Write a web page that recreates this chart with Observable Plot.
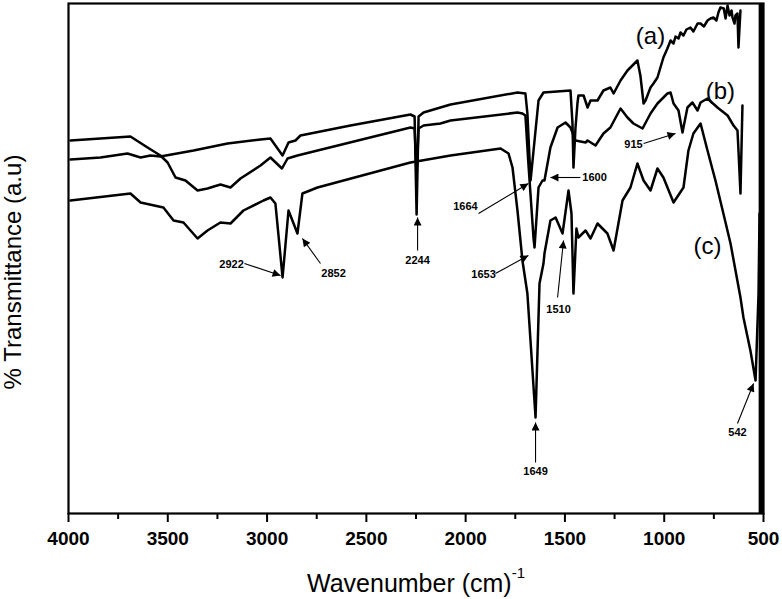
<!DOCTYPE html>
<html>
<head>
<meta charset="utf-8">
<script src="https://cdn.jsdelivr.net/npm/d3@7"></script>
<script src="https://cdn.jsdelivr.net/npm/@observablehq/plot@0.6"></script>
<style>
  html, body { margin: 0; padding: 0; background: #fff; }
  #chart svg { display: block; }
</style>
</head>
<body>
<div id="chart"></div>
<script>
// ---- Data (wavenumber cm^-1, transmittance a.u.) ----
const curveA = [
  [3990,70.8],[3839,71.2],[3703,72.0],[3637,71.2],[3587,71.6],[3537,71.4],[3370,72.6],
  [3199,74.0],[3033,74.8],[2983,75.0],[2958,73.6],[2922,71.6],[2892,74.2],[2857,74.6],
  [2832,75.6],[2580,77.6],[2278,79.8],[2257,79.4],[2247,59.8],[2237,79.4],[2212,80.2],
  [2127,81.2],[2076,81.8],[1739,84.2],[1699,84.0],[1689,80.0],[1673,66.6],[1658,72.6],
  [1633,82.6],[1608,84.2],[1472,84.6],[1462,78.0],[1457,69.2],[1447,77.0],[1437,82.0],
  [1432,83.6],[1406,83.6],[1386,81.2],[1371,82.6],[1336,82.6],[1306,84.6],[1271,85.2],
  [1255,84.0],[1220,86.6],[1185,88.6],[1135,90.6],[1120,87.6],[1104,82.0],[1094,82.6],
  [1069,85.2],[1054,86.0],[1034,87.2],[1004,91.2],[984,93.0],[968,94.6],[953,94.0],
  [943,95.4],[928,95.0],[918,96.2],[903,95.6],[888,96.8],[868,97.2],[853,96.4],[832,98.0],
  [817,98.0],[800,97.4],[782,98.6],[767,99.0],[752,99.2],[737,98.6],[727,100.2],[717,101.2],
  [700,101.0],[691,99.0],[681,101.6],[671,99.6],[661,100.6],[656,99.2],[646,98.0],[641,99.6],
  [631,100.0],[626,93.2],[621,97.0],[616,100.6]
];
const curveB = [
  [3990,74.6],[3688,75.4],[3602,73.2],[3537,71.6],[3501,70.2],[3461,67.2],[3411,66.6],
  [3350,64.6],[3300,65.0],[3235,65.8],[3184,65.2],[3134,67.0],[3033,69.6],[2983,71.2],
  [2925,69.0],[2897,71.0],[2847,71.6],[2278,77.2],[2257,77.0],[2247,67.6],[2237,77.0],
  [2212,77.6],[2127,78.0],[2076,78.6],[1739,80.2],[1714,80.0],[1699,79.6],[1684,70.0],
  [1658,55.0],[1653,53.2],[1633,65.2],[1613,66.6],[1603,66.6],[1573,73.2],[1537,77.2],
  [1497,78.2],[1472,77.2],[1447,74.6],[1396,74.2],[1386,74.6],[1346,73.6],[1306,76.0],
  [1271,77.2],[1220,81.0],[1185,79.2],[1155,78.0],[1109,77.0],[1069,80.0],[1034,82.0],
  [984,84.0],[968,84.2],[953,82.0],[928,80.6],[908,76.2],[883,81.2],[858,82.2],[832,80.6],
  [817,82.2],[782,83.0],[732,81.2],[681,79.6],[651,77.6],[631,76.6],[626,72.6],[616,64.0],
  [606,81.6]
];
const curveC = [
  [3990,62.6],[3688,64.0],[3637,62.2],[3522,61.2],[3471,58.6],[3421,58.2],[3350,55.0],
  [3300,56.6],[3235,58.2],[3184,58.0],[3119,60.6],[3018,62.6],[2983,63.2],[2958,62.0],
  [2922,47.2],[2892,60.6],[2847,56.0],[2822,64.0],[2746,65.2],[2278,70.2],[2076,71.6],
  [1824,73.0],[1784,72.0],[1764,69.2],[1739,60.6],[1714,50.6],[1689,44.0],[1648,19.2],
  [1628,46.0],[1608,50.0],[1603,52.0],[1573,58.6],[1547,59.2],[1512,56.0],[1482,64.6],
  [1467,60.0],[1457,44.0],[1442,57.0],[1432,55.2],[1396,56.6],[1371,55.0],[1336,58.0],
  [1286,56.0],[1255,52.6],[1210,62.6],[1170,65.2],[1135,70.0],[1104,66.6],[1069,64.6],
  [1034,69.0],[1004,67.2],[953,62.2],[903,65.2],[878,72.6],[853,76.0],[817,78.0],[782,72.6],
  [742,66.6],[702,60.0],[666,54.0],[616,43.2],[601,39.2],[566,32.6],[540,26.6],[525,44.0],
  [520,60.0]
];
const seriesNames = ["a", "b", "c"];
const seriesLabels = [
  {text: "(a)", wn: 1069, t: 95.5},
  {text: "(b)", wn: 717, t: 84.5},
  {text: "(c)", wn: 782, t: 53.5}
];
// peak annotations: label position and arrow (from -> to)
const peakLabels = ["2922", "2852", "2244", "1664", "1600", "1653", "1510", "1649", "542", "915"];
const labelPos = [[3179,49.8],[2665,48.0],[2242,50.6],[2001,61.4],[1351,67.2],[1910,47.8],[1532,40.8],[1648,8.4],[631,16.2],[1155,73.8]];
const arrowFrom = [[3114,50.0],[2731,50.0],[2242,52.6],[1935,60.0],[1422,67.2],[1850,48.0],[1537,43.2],[1648,10.2],[631,18.0],[1104,74.0]];
const arrowTo   = [[2932,47.6],[2822,55.0],[2242,59.2],[1684,66.0],[1573,67.2],[1684,51.6],[1507,54.6],[1648,18.2],[550,26.0],[943,76.0]];
const majorTicks = [4000, 3500, 3000, 2500, 2000, 1500, 1000, 500];
const minorTicks = [3750, 3250, 2750, 2250, 1750, 1250, 750];
const edgeBand = [{x1: 522, x2: 500}];
const yDomain = [0, 102];

// ---- Build tables ----
const rows = [];
[curveA, curveB, curveC].forEach((c, i) => c.forEach(([wn, t]) => rows.push({series: seriesNames[i], wn, t})));
const ann = peakLabels.map((s, i) => ({
  s, x: labelPos[i][0], y: labelPos[i][1],
  x1: arrowFrom[i][0], y1: arrowFrom[i][1], x2: arrowTo[i][0], y2: arrowTo[i][1]
}));

const font = "'Liberation Sans', Arial, sans-serif";

const chart = Plot.plot({
  width: 782,
  height: 599,
  marginLeft: 68,
  marginRight: 19,
  marginTop: 3,
  marginBottom: 86,
  style: {fontFamily: font, background: "#fff", color: "#000"},
  x: {domain: [4000, 500]},
  y: {domain: yDomain, axis: null},
  marks: [
    Plot.rect(edgeBand, {x1: "x1", x2: "x2", y1: yDomain[0], y2: yDomain[1], fill: "#000"}),
    Plot.line(rows, {x: "wn", y: "t", z: "series", stroke: "#000", strokeWidth: 2.5, strokeLinejoin: "round"}),
    Plot.link(ann, {x1: "x1", y1: "y1", x2: "x2", y2: "y2", stroke: "#000", strokeWidth: 1.1, className: "peak-arrow"}),
    Plot.text(ann, {x: "x", y: "y", text: "s", fontSize: 11, fontWeight: "bold", fill: "#000"}),
    Plot.text(seriesLabels, {x: "wn", y: "t", text: "text", fontSize: 24, fill: "#000"}),
    Plot.frame({stroke: "#000", strokeWidth: 2.2}),
    Plot.axisX({ticks: majorTicks, tickSize: 9, tickPadding: 9, strokeWidth: 2, fontSize: 19, fontWeight: "bold", label: null, tickFormat: d => String(d)}),
    Plot.axisX({ticks: minorTicks, tickSize: 6, strokeWidth: 2, text: null, label: null})
  ]
});

document.getElementById("chart").appendChild(chart);

// arrowheads (filled triangles) on annotation links
const svg = d3.select(chart);
const defs = svg.insert("defs", ":first-child");
defs.append("marker")
  .attr("id", "tri-head")
  .attr("viewBox", "0 0 10 10")
  .attr("refX", 10).attr("refY", 5)
  .attr("markerUnits", "userSpaceOnUse")
  .attr("markerWidth", 10).attr("markerHeight", 8)
  .attr("orient", "auto")
  .append("path").attr("d", "M0,0L10,5L0,10z").attr("fill", "#000");
svg.selectAll(".peak-arrow path").attr("marker-end", "url(#tri-head)");

// axis titles
const xt = svg.append("text")
  .attr("x", 307).attr("y", 592)
  .attr("text-anchor", "start")
  .attr("font-family", font).attr("font-size", 25).attr("fill", "#000")
  .text("Wavenumber (cm)");
xt.append("tspan").attr("dy", -14).attr("font-size", 15).text("-1");

svg.append("text")
  .attr("transform", "translate(21,272) rotate(-90)")
  .attr("text-anchor", "middle")
  .attr("font-family", font).attr("font-size", 24).attr("fill", "#000")
  .text("% Transmittance (a.u)");
</script>
</body>
</html>
